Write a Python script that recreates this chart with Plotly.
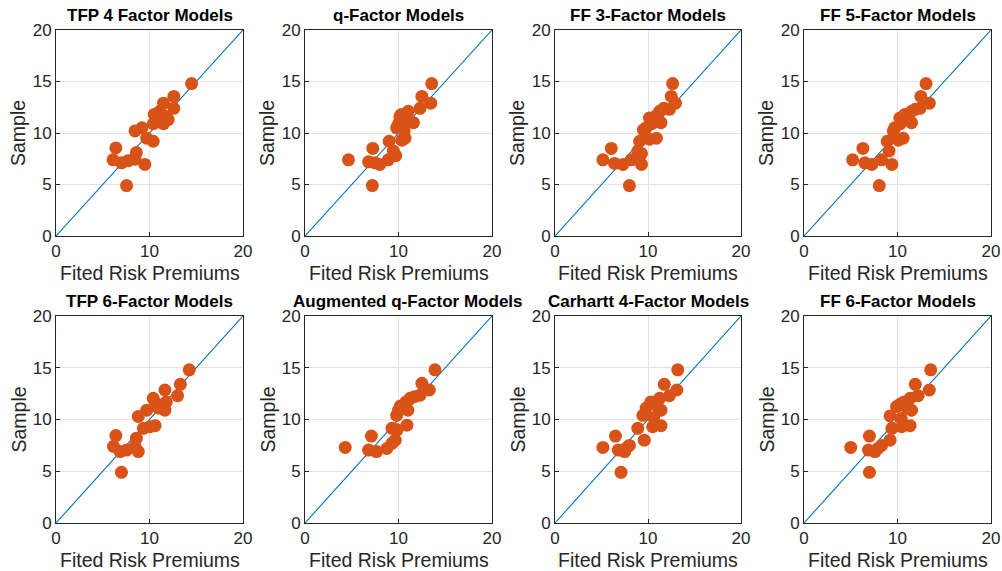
import plotly.graph_objects as go

titles = ["TFP 4 Factor Models", "q-Factor Models", "FF 3-Factor Models", "FF 5-Factor Models",
          "TFP 6-Factor Models", "Augmented q-Factor Models", "Carhartt 4-Factor Models", "FF 6-Factor Models"]

x_tfp4 = [14.5, 12.6, 12.6, 11.5, 11.8, 12.0, 11.5, 11.1, 10.8, 10.5, 10.4, 11.0, 9.7, 10.4, 9.2, 8.45, 8.6, 8.45, 7.7, 7.0, 6.1, 6.4, 9.5, 7.55, 11.3, 10.9]
y_tfp4 = [14.8, 13.55, 12.4, 12.9, 11.6, 11.3, 10.9, 12.1, 11.1, 11.8, 10.9, 11.5, 9.5, 9.2, 10.5, 10.2, 8.1, 7.45, 7.3, 7.1, 7.4, 8.55, 6.95, 4.9, 11.0, 11.3]

x_q = [13.55, 12.5, 13.45, 12.3, 11.05, 10.15, 11.6, 10.7, 9.8, 10.0, 10.3, 10.7, 10.35, 9.0, 9.45, 7.25, 4.65, 6.8, 7.5, 8.0, 8.9, 7.2, 11.3, 10.6, 9.7]
y_q = [14.8, 13.55, 12.9, 12.4, 12.1, 11.6, 11.0, 11.3, 10.5, 10.9, 11.8, 9.5, 9.3, 9.2, 8.25, 8.5, 7.4, 7.2, 7.1, 6.95, 7.4, 4.9, 11.1, 10.2, 7.8]

x_ff3 = [12.65, 12.5, 12.95, 12.3, 11.25, 10.9, 11.4, 10.15, 9.8, 9.5, 10.9, 10.15, 9.1, 8.9, 6.05, 5.15, 6.4, 7.3, 8.2, 9.3, 8.0, 9.3, 10.4, 11.7]
y_ff3 = [14.8, 13.55, 12.9, 12.3, 12.1, 11.7, 11.0, 11.45, 10.5, 10.3, 9.5, 9.4, 9.2, 8.25, 8.5, 7.4, 7.05, 6.95, 7.4, 6.95, 4.9, 8.0, 10.9, 12.4]

x_ff5 = [13.05, 12.5, 13.4, 12.4, 11.5, 10.8, 10.25, 11.5, 9.7, 9.55, 10.6, 10.1, 8.9, 9.1, 6.3, 5.2, 6.5, 7.25, 8.3, 9.4, 8.05, 11.9, 10.3]
y_ff5 = [14.8, 13.55, 12.9, 12.4, 12.1, 11.8, 11.45, 11.0, 10.5, 10.2, 9.5, 9.3, 9.2, 8.25, 8.5, 7.4, 7.1, 6.95, 7.4, 6.95, 4.9, 12.3, 10.9]

x_tfp6 = [14.25, 13.3, 13.0, 11.65, 10.4, 11.8, 10.95, 11.65, 9.7, 8.8, 9.35, 10.6, 10.05, 8.6, 6.4, 6.15, 6.85, 7.55, 8.45, 8.8, 7.0, 11.2, 10.6]
y_tfp6 = [14.8, 13.4, 12.3, 12.85, 12.05, 11.7, 11.1, 10.9, 10.9, 10.3, 9.15, 9.4, 9.3, 8.2, 8.45, 7.4, 6.9, 7.05, 7.4, 6.9, 4.9, 11.4, 11.6]

x_aq = [13.9, 12.5, 13.3, 12.3, 11.25, 10.8, 10.0, 11.0, 9.8, 10.9, 9.3, 9.85, 9.65, 7.1, 4.3, 6.8, 7.65, 8.75, 9.3, 10.2, 11.7]
y_aq = [14.8, 13.5, 12.85, 12.35, 12.05, 11.7, 10.9, 10.9, 10.4, 9.45, 9.15, 9.0, 8.0, 8.4, 7.3, 7.05, 6.9, 7.2, 7.7, 11.3, 12.2]

x_c4 = [13.2, 11.75, 13.1, 12.3, 11.25, 10.8, 9.8, 11.4, 9.45, 10.6, 11.4, 10.5, 8.9, 9.6, 6.5, 5.15, 6.8, 7.5, 8.0, 7.1, 10.3, 11.0, 7.6]
y_c4 = [14.8, 13.4, 12.85, 12.3, 12.05, 11.5, 11.1, 10.9, 10.4, 10.2, 9.4, 9.3, 9.15, 8.0, 8.4, 7.3, 7.05, 6.9, 7.5, 4.9, 11.7, 11.3, 7.2]

x_ff6 = [13.55, 11.9, 13.4, 12.2, 11.35, 10.7, 9.9, 11.5, 9.2, 10.4, 11.35, 10.45, 9.4, 9.2, 7.0, 5.0, 6.9, 7.6, 8.3, 7.0, 10.3, 11.0, 7.9]
y_ff6 = [14.8, 13.4, 12.85, 12.3, 12.05, 11.7, 11.25, 10.9, 10.35, 10.1, 9.4, 9.3, 9.15, 8.0, 8.4, 7.3, 7.05, 6.9, 7.5, 4.9, 11.5, 11.1, 7.2]

xs = [x_tfp4, x_q, x_ff3, x_ff5, x_tfp6, x_aq, x_c4, x_ff6]
ys = [y_tfp4, y_q, y_ff3, y_ff5, y_tfp6, y_aq, y_c4, y_ff6]

diag = [0, 20]
xticks = [0, 10, 20]
yticks = [0, 5, 10, 15, 20]

W, H = 1002, 571
col_px = [(56, 243), (305, 492), (555, 741), (804, 991)]
row_px = [(30, 236), (316, 523)]
title_shift = [0, 0, 0, 0, 0, 9, 0, 0]

FONT = "Arial, Liberation Sans, Helvetica, sans-serif"
TXT = "#262626"

fig = go.Figure()
layout = dict(width=W, height=H, margin=dict(l=0, r=0, t=0, b=0, pad=0, autoexpand=False),
              plot_bgcolor="white", paper_bgcolor="white", showlegend=False,
              font=dict(family=FONT, color=TXT))
annotations = []
for i in range(8):
    r, c = divmod(i, 4)
    ax = "" if i == 0 else str(i + 1)
    x0, x1 = col_px[c]
    y0, y1 = row_px[r]
    dx = [x0 / W, x1 / W]
    dy = [1 - y1 / H, 1 - y0 / H]
    common = dict(showline=True, linecolor=TXT, linewidth=1, mirror=True,
                  ticks="inside", ticklen=4, tickcolor=TXT, automargin=False,
                  showgrid=True, gridcolor="#e3e3e3", gridwidth=1,
                  zeroline=False, tickfont=dict(size=17, color=TXT, family=FONT))
    layout["xaxis" + ax] = dict(domain=dx, range=[0, 20], tickvals=xticks, anchor="y" + ax, **common)
    layout["yaxis" + ax] = dict(domain=dy, range=[0, 20], tickvals=yticks, anchor="x" + ax, **common)
    fig.add_trace(go.Scatter(x=diag, y=diag, mode="lines", line=dict(color="#0072BD", width=1.1),
                             xaxis="x" + ax, yaxis="y" + ax, hoverinfo="skip"))
    fig.add_trace(go.Scatter(x=xs[i], y=ys[i], mode="markers",
                             marker=dict(color="#D95319", size=13, line=dict(width=0)),
                             xaxis="x" + ax, yaxis="y" + ax))
    xc = (x0 + x1) / 2 / W
    annotations.append(dict(text="<b>" + titles[i] + "</b>", x=xc, y=1 - (y0 - 15) / H,
                            xref="paper", yref="paper", showarrow=False,
                            xanchor="center", yanchor="middle", xshift=title_shift[i],
                            font=dict(size=17, color="#000000", family=FONT)))
    annotations.append(dict(text="Fited Risk Premiums", x=xc, y=1 - (y1 + 37) / H,
                            xref="paper", yref="paper", showarrow=False,
                            xanchor="center", yanchor="middle",
                            font=dict(size=19.5, color=TXT, family=FONT)))
    annotations.append(dict(text="Sample", x=(x0 - 38) / W, y=1 - (y0 + y1) / 2 / H,
                            xref="paper", yref="paper", showarrow=False, textangle=-90,
                            xanchor="center", yanchor="middle",
                            font=dict(size=19.5, color=TXT, family=FONT)))
layout["annotations"] = annotations
fig.update_layout(**layout)
fig.write_html("out.html")
